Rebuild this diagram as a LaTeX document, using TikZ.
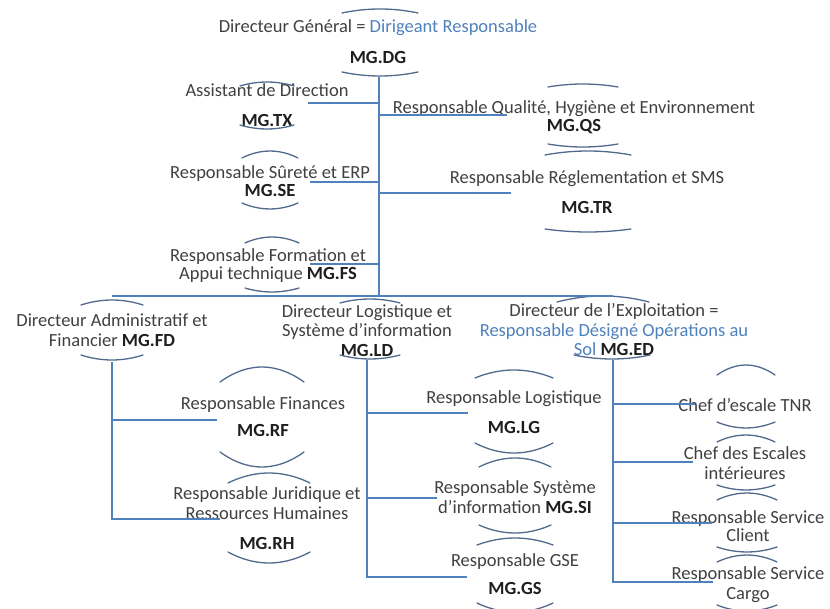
\documentclass[tikz,border=0pt]{standalone}
\usepackage{fontspec}
\setmainfont{Carlito}
\definecolor{linec}{RGB}{79,129,189}
\definecolor{arcc}{RGB}{80,105,140}
\definecolor{txt}{RGB}{64,64,64}
\definecolor{codec}{RGB}{30,30,30}
\definecolor{blu}{RGB}{79,129,189}
\newcommand\cd[1]{{\bfseries\color{codec}#1}}
% bracket arcs: cx, half width, y top-end, y top-peak, y bottom-end, y bottom-peak
\newcommand\brk[6]{%
  \draw[arcl] ({#1-#2},#3) parabola bend (#1,#4) ({#1+#2},#3);
  \draw[arcl] ({#1-#2},#5) parabola bend (#1,#6) ({#1+#2},#5);}
\begin{document}
\begin{tikzpicture}[x={(1pt,0)},y={(0,-1pt)},
  box/.style={align=center,text=txt,inner sep=0pt,font=\fontsize{18.5}{19.5}\selectfont},
  conn/.style={draw=linec,line width=1.8pt},
  arcl/.style={draw=arcc,line width=1.3pt,line cap=round}]
\useasboundingbox (0,0) rectangle (830,609);

% ---- nodes
\node[box] (dg)  at (378,44)  {\strut Directeur Général = {\color{blu}Dirigeant Responsable}\\[11.5pt]\strut\cd{MG.DG}};
\node[box] (tx)  at (267,107.5) {\strut Assistant de Direction\\[10.5pt]\strut\cd{MG.TX}};
\node[box] (qs)  at (574,118.5) {\strut Responsable Qualité, Hygiène et Environnement\\[-1.5pt]\strut\cd{MG.QS}};
\node[box] (se)  at (270,183.5) {\strut Responsable Sûreté et ERP\\[-1.5pt]\strut\cd{MG.SE}};
\node[box] (tr)  at (587,194.5) {\strut Responsable Réglementation et SMS\\[10.5pt]\strut\cd{MG.TR}};
\node[box] (fs)  at (268,266.5) {\strut Responsable Formation et\\[-1.5pt]\strut Appui technique \cd{MG.FS}};
\node[box] (fd)  at (112,332.5) {\strut Directeur Administratif et\\[0.5pt]\strut Financier \cd{MG.FD}};
\node[box] (ld)  at (367,333) {\strut Directeur Logistique et\\\strut Système d'information\\\strut\cd{MG.LD}};
\node[box] (ed)  at (614,332.5) {\strut Directeur de l'Exploitation =\\\strut{\color{blu}Responsable Désigné Opérations au}\\\strut{\color{blu}Sol} \cd{MG.ED}};
\node[box] (rf)  at (263,419) {\strut Responsable Finances\\[7.5pt]\strut\cd{MG.RF}};
\node[box] (rh)  at (267,520.5) {\strut Responsable Juridique et\\[0.5pt]\strut Ressources Humaines\\[10.5pt]\strut\cd{MG.RH}};
\node[box] (lg)  at (514,414.5) {\strut Responsable Logistique\\[10.5pt]\strut\cd{MG.LG}};
\node[box] (si)  at (515,499.5) {\strut Responsable Système\\[0.5pt]\strut d'information \cd{MG.SI}};
\node[box] (gs)  at (515,576.5) {\strut Responsable GSE\\[8.5pt]\strut\cd{MG.GS}};
\node[box] (tnr) at (745,407.5) {\strut Chef d'escale TNR};
\node[box] (esc) at (745,465.5) {\strut Chef des Escales\\[0.5pt]\strut intérieures};
\node[box] (cli) at (748,528.5) {\strut Responsable Service\\[-1.5pt]\strut Client};
\node[box] (car) at (748,585.5) {\strut Responsable Service\\[0.5pt]\strut Cargo};

% ---- bracket arcs
\brk{380}{38}{13}{9}{72}{76}
\brk{267}{27}{86}{82}{125}{129}
\brk{583}{35}{87}{84}{144}{147}
\brk{270}{28}{158}{151}{203}{209}
\brk{588}{43}{155}{151}{229}{232}
\brk{272}{27}{243}{237}{288}{292}
\brk{112}{31}{305}{300}{355}{360}
\brk{370}{30}{303}{299}{355}{359}
\draw[arcl] (557,302) parabola bend (603,296) (649,302);
\draw[arcl] (574,355) parabola bend (612,359) (650,355);
\brk{262}{42}{382}{367}{452}{467}
\brk{269}{41}{483}{473}{552}{563}
\brk{514}{39}{378}{370}{443}{453}
\brk{515}{36}{467}{458}{525}{533}
\brk{515}{38}{545}{538}{603}{612}
\brk{746}{29}{375}{365}{422}{428}
\brk{746}{29}{442}{435}{485}{490}
\brk{747}{30}{500}{493}{547}{552}
\brk{747}{30}{562}{555}{605}{611}

% ---- connector coordinates
\coordinate (dgS) at (379,77);
\coordinate (busM) at (379,296);
\coordinate (busL) at (112,296);
\coordinate (busR) at (613,296);
\coordinate (txE) at (308,103);
\coordinate (qsE) at (507,115);
\coordinate (seE) at (310,182);
\coordinate (trE) at (511,193);
\coordinate (fsE) at (310,264);
\coordinate (fdS) at (112,362);
\coordinate (rfE) at (217,420);
\coordinate (rhE) at (220,519);
\coordinate (ldS) at (367,360);
\coordinate (lgE) at (468,413);
\coordinate (siE) at (437,498);
\coordinate (gsE) at (467,577);
\coordinate (edS) at (613,360);
\coordinate (tnrE) at (695,404);
\coordinate (escE) at (693,462);
\coordinate (cliE) at (712,523);
\coordinate (carE) at (713,582);

% ---- connectors
\draw[conn] (dgS) -- (busM);
\draw[conn] (busL) -- (busR);
\draw[conn] (dgS |- txE) -- (txE);
\draw[conn] (dgS |- qsE) -- (qsE);
\draw[conn] (dgS |- seE) -- (seE);
\draw[conn] (dgS |- trE) -- (trE);
\draw[conn] (dgS |- fsE) -- (fsE);
\draw[conn] (fdS) -- (fdS |- rhE) -- (rhE);
\draw[conn] (fdS |- rfE) -- (rfE);
\draw[conn] (ldS) -- (ldS |- gsE) -- (gsE);
\draw[conn] (ldS |- lgE) -- (lgE);
\draw[conn] (ldS |- siE) -- (siE);
\draw[conn] (edS) -- (edS |- carE) -- (carE);
\draw[conn] (edS |- tnrE) -- (tnrE);
\draw[conn] (edS |- escE) -- (escE);
\draw[conn] (edS |- cliE) -- (cliE);
\end{tikzpicture}
\end{document}
